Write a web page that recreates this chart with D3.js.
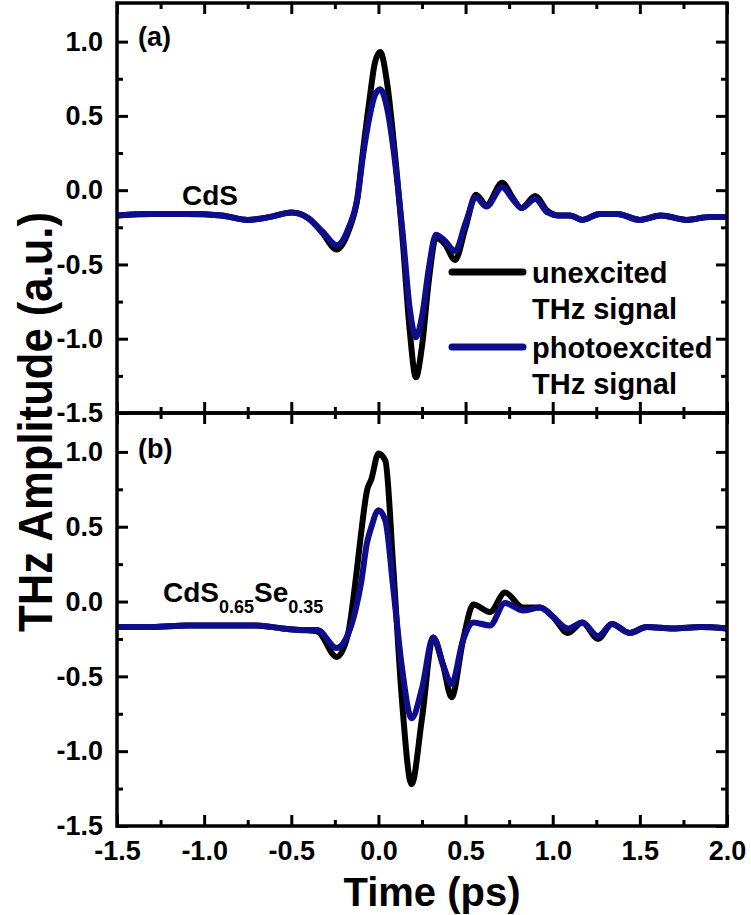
<!DOCTYPE html>
<html>
<head>
<meta charset="utf-8">
<script src="https://cdn.jsdelivr.net/npm/d3@7"></script>
<style>
  html, body { margin: 0; padding: 0; background: #fff; }
  svg { display: block; }
  text { font-family: "Liberation Sans", Arial, sans-serif; font-weight: bold; fill: #000; }
</style>
</head>
<body>
<svg id="chart" width="751" height="915"></svg>
<script>
// ---------- data ----------
const timeA = [-1.5, -1.3, -1.1, -0.9, -0.75, -0.62, -0.5, -0.4, -0.32, -0.24, -0.17, -0.12, -0.09, -0.05, -0.02, 0.01, 0.05, 0.09, 0.14, 0.18, 0.215, 0.25, 0.29, 0.33, 0.38, 0.44, 0.5, 0.56, 0.62, 0.71, 0.77, 0.82, 0.9, 0.97, 1.03, 1.1, 1.17, 1.27, 1.37, 1.5, 1.62, 1.77, 1.9, 2.0];
const unexcitedA = [-0.17, -0.16, -0.16, -0.17, -0.20, -0.18, -0.15, -0.19, -0.29, -0.40, -0.27, -0.05, 0.25, 0.62, 0.86, 0.93, 0.72, 0.30, -0.35, -0.95, -1.26, -1.05, -0.60, -0.32, -0.36, -0.47, -0.25, -0.03, -0.10, 0.05, -0.05, -0.12, -0.04, -0.14, -0.17, -0.17, -0.20, -0.16, -0.16, -0.20, -0.17, -0.20, -0.18, -0.18];
const photoA = [-0.17, -0.16, -0.16, -0.17, -0.20, -0.18, -0.15, -0.19, -0.28, -0.37, -0.25, -0.05, 0.22, 0.50, 0.64, 0.68, 0.55, 0.24, -0.30, -0.80, -0.99, -0.85, -0.52, -0.30, -0.34, -0.41, -0.22, -0.05, -0.11, 0.02, -0.06, -0.12, -0.06, -0.15, -0.17, -0.17, -0.20, -0.16, -0.16, -0.20, -0.17, -0.20, -0.18, -0.18];

const timeB = [-1.5, -1.3, -1.1, -0.9, -0.7, -0.55, -0.45, -0.35, -0.24, -0.175, -0.13, -0.1, -0.066, -0.04, 0.0, 0.04, 0.085, 0.135, 0.19, 0.25, 0.314, 0.37, 0.42, 0.485, 0.545, 0.64, 0.726, 0.83, 0.927, 1.0, 1.087, 1.17, 1.26, 1.34, 1.44, 1.54, 1.69, 1.85, 2.0];
const unexcitedB = [-0.17, -0.17, -0.16, -0.16, -0.16, -0.18, -0.19, -0.20, -0.37, -0.22, 0.15, 0.45, 0.74, 0.82, 0.99, 0.94, 0.23, -0.66, -1.22, -0.78, -0.24, -0.42, -0.64, -0.26, -0.02, -0.07, 0.06, -0.04, -0.04, -0.10, -0.21, -0.14, -0.25, -0.15, -0.21, -0.17, -0.18, -0.17, -0.18];
const photoB = [-0.17, -0.17, -0.16, -0.16, -0.16, -0.18, -0.19, -0.19, -0.31, -0.22, -0.05, 0.12, 0.39, 0.50, 0.61, 0.54, 0.09, -0.44, -0.78, -0.58, -0.24, -0.42, -0.55, -0.26, -0.14, -0.16, -0.01, -0.06, -0.04, -0.10, -0.18, -0.14, -0.23, -0.15, -0.21, -0.17, -0.18, -0.17, -0.18];

const xTicks = [-1.5, -1.0, -0.5, 0.0, 0.5, 1.0, 1.5, 2.0];
const xTickLabels = ["-1.5", "-1.0", "-0.5", "0.0", "0.5", "1.0", "1.5", "2.0"];
const xMinor = [-1.25, -0.75, -0.25, 0.25, 0.75, 1.25, 1.75];
const yTicks = [1.0, 0.5, 0.0, -0.5, -1.0, -1.5];
const yTickLabels = ["1.0", "0.5", "0.0", "-0.5", "-1.0", "-1.5"];
const yMinor = [0.75, 0.25, -0.25, -0.75, -1.25];

const seriesNames = ["unexcited", "photoexcited"];
const legendLines = [["unexcited", "THz signal"], ["photoexcited", "THz signal"]];
const panelLabels = ["(a)", "(b)"];

// ---------- layout ----------
const svg = d3.select("#chart");
const colors = { unexcited: "#000000", photoexcited: "#0e0e8c" };
const left = 117, right = 727;
const panels = [
  { top: 3, bottom: 413, t: timeA, u: unexcitedA, p: photoA, label: panelLabels[0] },
  { top: 413, bottom: 826, t: timeB, u: unexcitedB, p: photoB, label: panelLabels[1] }
];
const x = d3.scaleLinear().domain([-1.5, 2.0]).range([left, right]);
const yDomain = [-1.5, 1.26];

panels.forEach((P, i) => {
  const y = d3.scaleLinear().domain(yDomain).range([P.bottom, P.top]);
  const g = svg.append("g");
  const clipId = "clip" + i;
  svg.append("clipPath").attr("id", clipId).append("rect")
    .attr("x", left).attr("y", P.top).attr("width", right - left).attr("height", P.bottom - P.top);

  const line = d3.line().x(d => x(d[0])).y(d => y(d[1])).curve(d3.curveMonotoneX);
  const curves = g.append("g").attr("clip-path", `url(#${clipId})`);
  curves.append("path").datum(P.t.map((t, k) => [t, P.u[k]]))
    .attr("d", line).attr("fill", "none").attr("stroke", colors.unexcited)
    .attr("stroke-width", 6).attr("stroke-linejoin", "round").attr("stroke-linecap", "round");
  curves.append("path").datum(P.t.map((t, k) => [t, P.p[k]]))
    .attr("d", line).attr("fill", "none").attr("stroke", colors.photoexcited)
    .attr("stroke-width", 6).attr("stroke-linejoin", "round").attr("stroke-linecap", "round");

  const styleAxis = sel => {
    sel.select(".domain").remove();
    sel.selectAll(".tick line").attr("stroke", "#000").attr("stroke-width", 3);
    sel.selectAll(".tick text").style("font-size", "27px").style("font-family", "Liberation Sans, Arial, sans-serif").style("font-weight", "bold");
  };
  // left axis
  g.append("g").attr("transform", `translate(${left},0)`)
    .call(d3.axisLeft(y).tickValues(yTicks).tickSize(-11).tickPadding(14)
      .tickFormat((d, k) => yTickLabels[k])).call(styleAxis);
  g.append("g").attr("transform", `translate(${left},0)`)
    .call(d3.axisLeft(y).tickValues(yMinor).tickSize(-6).tickFormat("")).call(styleAxis);
  // right axis
  g.append("g").attr("transform", `translate(${right},0)`)
    .call(d3.axisRight(y).tickValues(yTicks).tickSize(-11).tickFormat("")).call(styleAxis);
  g.append("g").attr("transform", `translate(${right},0)`)
    .call(d3.axisRight(y).tickValues(yMinor).tickSize(-6).tickFormat("")).call(styleAxis);
  // top axis
  g.append("g").attr("transform", `translate(0,${P.top})`)
    .call(d3.axisTop(x).tickValues(xTicks).tickSize(-11).tickFormat("")).call(styleAxis);
  g.append("g").attr("transform", `translate(0,${P.top})`)
    .call(d3.axisTop(x).tickValues(xMinor).tickSize(-6).tickFormat("")).call(styleAxis);
  // bottom axis
  const bottomAx = d3.axisBottom(x).tickValues(xTicks).tickSize(-11).tickPadding(15)
    .tickFormat(i === 1 ? ((d, k) => xTickLabels[k]) : "");
  g.append("g").attr("transform", `translate(0,${P.bottom})`).call(bottomAx).call(styleAxis);
  g.append("g").attr("transform", `translate(0,${P.bottom})`)
    .call(d3.axisBottom(x).tickValues(xMinor).tickSize(-6).tickFormat("")).call(styleAxis);

  // frame
  g.append("rect").attr("x", left).attr("y", P.top).attr("width", right - left).attr("height", P.bottom - P.top)
    .attr("fill", "none").attr("stroke", "#000").attr("stroke-width", 3.5);

  // panel label
  g.append("text").attr("x", 138).attr("y", P.top + (i === 0 ? 43 : 45)).style("font-size", "27px").text(P.label);
});

// sample labels
svg.append("text").attr("x", 182).attr("y", 205).style("font-size", "28px").text("CdS");
const sub = svg.append("text").attr("x", 163).attr("y", 602).style("font-size", "28px");
sub.append("tspan").text("CdS");
sub.append("tspan").attr("dy", 11).style("font-size", "18px").text("0.65");
sub.append("tspan").attr("dy", -11).text("Se");
sub.append("tspan").attr("dy", 11).style("font-size", "18px").text("0.35");

// legend
const legY = [272, 347];
legendLines.forEach((lines, k) => {
  svg.append("line").attr("x1", 452).attr("x2", 523).attr("y1", legY[k]).attr("y2", legY[k])
    .attr("stroke", colors[seriesNames[k]]).attr("stroke-width", 7).attr("stroke-linecap", "round");
  lines.forEach((txt, j) => {
    svg.append("text").attr("x", 532).attr("y", legY[k] + 11 + j * 36)
      .style("font-size", "29px").text(txt);
  });
});

// axis titles
svg.append("text").attr("x", 432).attr("y", 906).attr("text-anchor", "middle")
  .style("font-size", "40px").text("Time (ps)");
svg.append("text").attr("transform", "translate(52,422) rotate(-90)").attr("text-anchor", "middle")
  .style("font-size", "48px").attr("textLength", 420).attr("lengthAdjust", "spacingAndGlyphs")
  .text("THz Amplitude (a.u.)");
</script>
</body>
</html>
